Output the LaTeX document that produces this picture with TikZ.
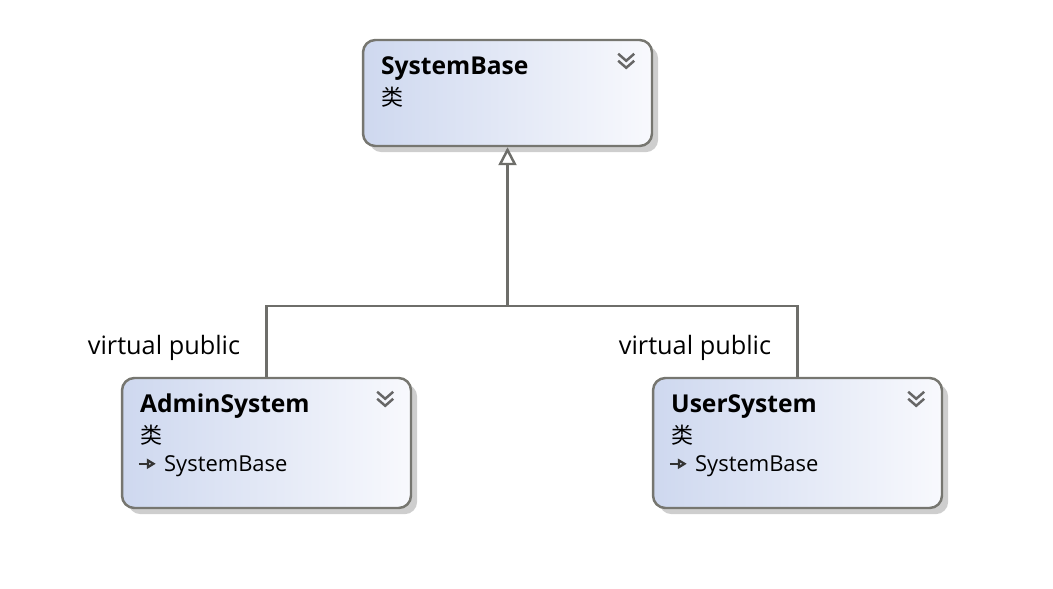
\documentclass[tikz,border=0pt]{standalone}
\usepackage{fontspec}
\setmainfont{Open Sans}
\newfontfamily\cjk{Noto Sans CJK SC}
\usetikzlibrary{calc, positioning, arrows.meta, shadows}

\definecolor{boxleft}{RGB}{206,216,239}
\definecolor{boxright}{RGB}{248,249,253}
\definecolor{boxline}{RGB}{118,118,112}
\definecolor{wireline}{RGB}{110,110,106}

% expander icon (double chevron) at the top right of a class box
\newcommand\expander[1]{%
    \draw[chev] ($(#1.north east)+(-35,-15)$) -- ++(8,-7) -- ++(8,7)
                ($(#1.north east)+(-35,-22)$) -- ++(8,-7) -- ++(8,7);}

\begin{document}
\begin{tikzpicture}[
        x=0.02cm, y=0.02cm,
        classbox/.style={rectangle, draw=boxline, line width=1.4pt, rounded corners=7pt,
                    left color=boxleft, right color=boxright,
                    minimum width=5.78cm, inner sep=0pt,
                    drop shadow={shadow xshift=3.5pt, shadow yshift=-3.5pt,
                                 fill=black!35, opacity=0.55}},
        title/.style={anchor=base west, inner sep=0pt,
                    font=\fontsize{14}{16}\selectfont\bfseries},
        kind/.style={anchor=base west, inner sep=0pt,
                    font=\fontsize{12.5}{14}\selectfont\cjk},
        member/.style={anchor=base west, inner sep=0pt,
                    font=\fontsize{12.5}{14}\selectfont},
        relation/.style={anchor=base east, inner sep=0pt,
                    font=\fontsize{14.4}{17}\selectfont},
        chev/.style={draw=black!60, line width=1.4pt},
        glyph/.style={draw=black!80, line width=1.3pt,
                    -{Triangle[open, length=0.18cm, width=0.2cm]}},
        wire/.style={draw=wireline, line width=1.4pt},
    ]
    \useasboundingbox (0,0) rectangle (1053,-588);

    % base class
    \node[classbox, minimum height=2.12cm] (SystemBase) at (507.5,-93) {};
    \node[title] (SystemBase-name) at ($(SystemBase.north west)+(19,-36)$) {SystemBase};
    \node[kind] (SystemBase-kind) at ($(SystemBase.north west)+(19,-67)$) {类};
    \expander{SystemBase}

    % derived classes
    \node[classbox, minimum height=2.6cm] (AdminSystem) at (266.5,-443) {};
    \node[title] (AdminSystem-name) at ($(AdminSystem.north west)+(19,-36)$) {AdminSystem};
    \node[kind] (AdminSystem-kind) at ($(AdminSystem.north west)+(19,-67)$) {类};
    \node[member] (AdminSystem-base) at ($(AdminSystem.north west)+(43,-95)$) {SystemBase};
    \draw[glyph] ($(AdminSystem-base.base west)+(-25,8)$) -- ++(17,0);
    \expander{AdminSystem}

    \node[classbox, minimum height=2.6cm] (UserSystem) at (797.5,-443) {};
    \node[title] (UserSystem-name) at ($(UserSystem.north west)+(19,-36)$) {UserSystem};
    \node[kind] (UserSystem-kind) at ($(UserSystem.north west)+(19,-67)$) {类};
    \node[member] (UserSystem-base) at ($(UserSystem.north west)+(43,-95)$) {SystemBase};
    \draw[glyph] ($(UserSystem-base.base west)+(-25,8)$) -- ++(17,0);
    \expander{UserSystem}

    % inheritance
    \coordinate (fork) at ($(SystemBase.south)+(0,-159)$);
    \draw[wire] (AdminSystem.north) |- (fork) -| (UserSystem.north);
    \draw[wire, -{Triangle[open, length=0.36cm, width=0.36cm]}] (fork) -- (SystemBase.south);

    \node[relation] (AdminSystem-rel) at ($(AdminSystem.north)+(-26,22)$) {virtual public};
    \node[relation] (UserSystem-rel) at ($(UserSystem.north)+(-26,22)$) {virtual public};
\end{tikzpicture}
\end{document}
